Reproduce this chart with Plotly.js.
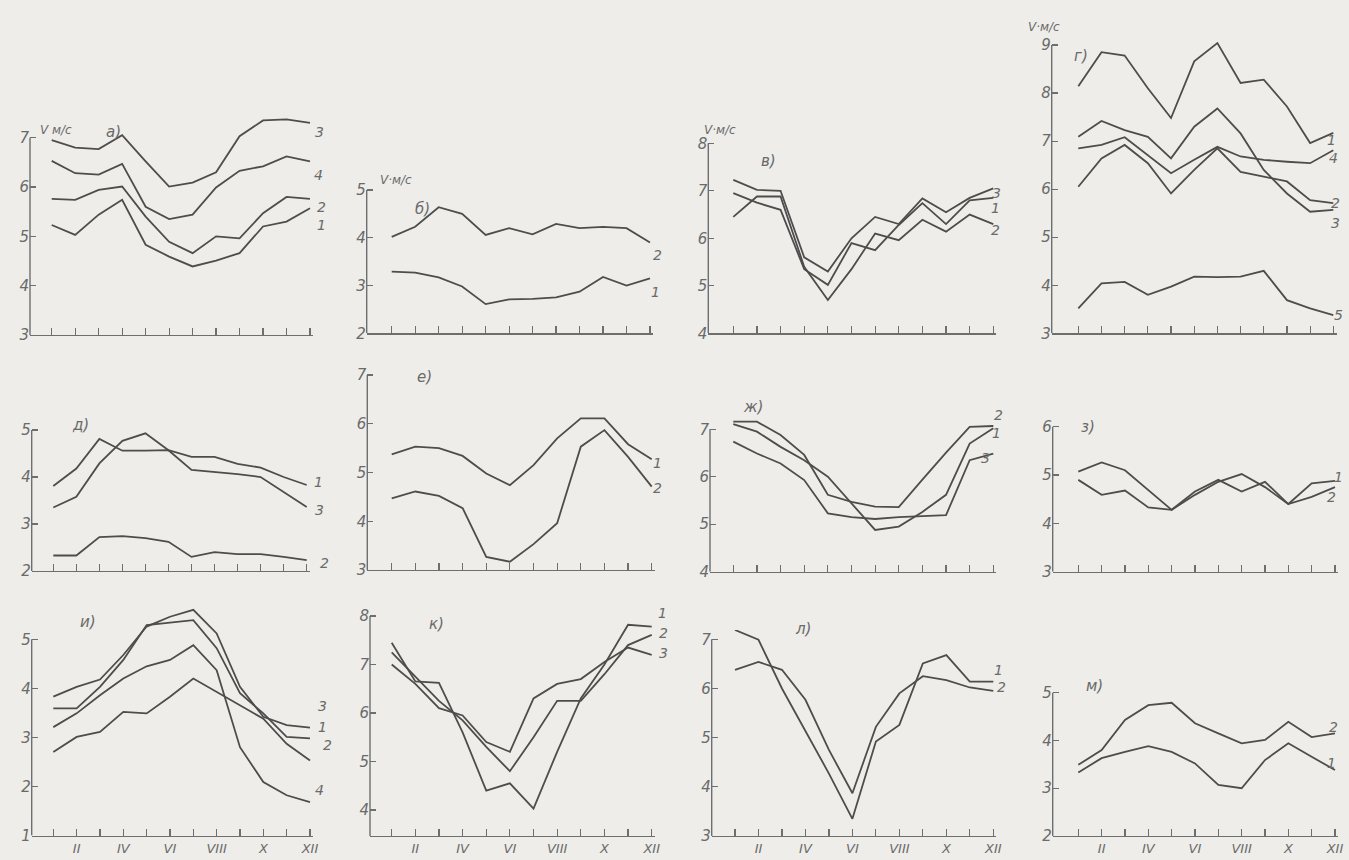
<!DOCTYPE html>
<html><head><meta charset="utf-8">
<script src="https://cdn.plot.ly/plotly-3.0.1.min.js"></script>
<style>html,body{margin:0;padding:0;background:#eeede9;} #chart{width:1349px;height:860px;}</style>
</head><body><div id="chart"></div>
<script>
// ---------- DATA ----------
const months = [1,2,3,4,5,6,7,8,9,10,11,12];
const monthTickText = ['', 'II', '', 'IV', '', 'VI', '', 'VIII', '', 'X', '', 'XII'];

// а)
const a_1 = [5.23, 5.03, 5.44, 5.74, 4.83, 4.59, 4.39, 4.51, 4.66, 5.20, 5.30, 5.57];
const a_2 = [5.76, 5.74, 5.94, 6.01, 5.40, 4.89, 4.66, 5.00, 4.96, 5.47, 5.80, 5.76];
const a_3 = [6.95, 6.80, 6.77, 7.05, 6.52, 6.01, 6.09, 6.30, 7.03, 7.35, 7.37, 7.30];
const a_4 = [6.53, 6.28, 6.25, 6.47, 5.60, 5.35, 5.44, 5.99, 6.33, 6.42, 6.62, 6.52];
// б)
const b_1 = [3.29, 3.27, 3.17, 2.98, 2.61, 2.71, 2.72, 2.75, 2.87, 3.18, 3.00, 3.15];
const b_2 = [4.02, 4.23, 4.64, 4.50, 4.06, 4.20, 4.07, 4.29, 4.20, 4.23, 4.20, 3.90];
// в)
const v_1 = [6.95, 6.75, 6.60, 5.35, 5.02, 5.90, 5.75, 6.28, 6.74, 6.30, 6.80, 6.85];
const v_2 = [6.45, 6.88, 6.88, 5.40, 4.70, 5.35, 6.10, 5.96, 6.39, 6.14, 6.50, 6.30];
const v_3 = [7.23, 7.02, 7.00, 5.60, 5.30, 6.00, 6.45, 6.30, 6.84, 6.55, 6.85, 7.05];
// г)
const g_1 = [8.14, 8.85, 8.78, 8.10, 7.48, 8.66, 9.04, 8.21, 8.28, 7.72, 6.96, 7.17];
const g_2 = [6.05, 6.64, 6.92, 6.54, 5.91, 6.40, 6.85, 6.36, 6.26, 6.16, 5.77, 5.71];
const g_3 = [7.09, 7.42, 7.23, 7.09, 6.64, 7.30, 7.68, 7.16, 6.40, 5.91, 5.53, 5.57];
const g_4 = [6.85, 6.92, 7.08, 6.71, 6.33, 6.61, 6.88, 6.68, 6.61, 6.57, 6.54, 6.81];
const g_5 = [3.52, 4.04, 4.07, 3.80, 3.97, 4.18, 4.17, 4.18, 4.30, 3.69, 3.52, 3.38];
// д)
const d_1 = [3.81, 4.18, 4.81, 4.56, 4.56, 4.57, 4.43, 4.43, 4.28, 4.20, 4.00, 3.83];
const d_2 = [2.33, 2.33, 2.72, 2.74, 2.70, 2.62, 2.30, 2.40, 2.36, 2.36, 2.30, 2.23];
const d_3 = [3.35, 3.58, 4.29, 4.77, 4.93, 4.57, 4.15, 4.11, 4.06, 4.00, 3.68, 3.36];
// е)
const e_1 = [5.37, 5.53, 5.50, 5.34, 4.98, 4.74, 5.15, 5.70, 6.11, 6.11, 5.58, 5.27];
const e_2 = [4.47, 4.61, 4.52, 4.27, 3.27, 3.17, 3.53, 3.96, 5.53, 5.87, 5.32, 4.71];
// ж)
const zh_1 = [7.11, 6.95, 6.63, 6.35, 6.00, 5.44, 4.88, 4.95, 5.26, 5.62, 6.70, 7.02];
const zh_2 = [7.16, 7.16, 6.88, 6.46, 5.62, 5.47, 5.37, 5.36, 5.94, 6.51, 7.05, 7.07];
const zh_3 = [6.74, 6.49, 6.28, 5.93, 5.23, 5.15, 5.11, 5.15, 5.17, 5.19, 6.35, 6.49];
// з)
const z_1 = [5.07, 5.26, 5.10, 4.69, 4.28, 4.59, 4.86, 5.02, 4.75, 4.40, 4.83, 4.88];
const z_2 = [4.90, 4.59, 4.68, 4.33, 4.28, 4.66, 4.90, 4.66, 4.86, 4.40, 4.55, 4.75];
// и)
const i_1 = [3.59, 3.59, 4.03, 4.58, 5.29, 5.34, 5.39, 4.82, 3.90, 3.49, 3.01, 2.98];
const i_2 = [2.70, 3.01, 3.11, 3.52, 3.49, 3.83, 4.20, 3.93, 3.66, 3.38, 2.87, 2.53];
const i_3 = [3.83, 4.03, 4.18, 4.68, 5.26, 5.46, 5.60, 5.12, 4.03, 3.42, 3.25, 3.20];
const i_4 = [3.21, 3.49, 3.86, 4.20, 4.45, 4.58, 4.88, 4.37, 2.80, 2.09, 1.82, 1.68];
// к)
const k_1 = [7.45, 6.65, 6.62, 5.60, 4.40, 4.55, 4.03, 5.20, 6.30, 7.00, 7.82, 7.78];
const k_2 = [7.25, 6.75, 6.25, 5.85, 5.30, 4.80, 5.50, 6.25, 6.25, 6.80, 7.40, 7.61];
const k_3 = [7.00, 6.60, 6.10, 5.95, 5.40, 5.20, 6.30, 6.60, 6.70, 7.05, 7.35, 7.20];
// л)
const l_1 = [7.19, 6.99, 6.00, 5.12, 4.27, 3.35, 4.92, 5.26, 6.51, 6.68, 6.14, 6.14];
const l_2 = [6.38, 6.54, 6.38, 5.77, 4.75, 3.87, 5.22, 5.90, 6.25, 6.17, 6.02, 5.95];
// м)
const m_1 = [3.33, 3.63, 3.76, 3.88, 3.76, 3.52, 3.07, 3.00, 3.59, 3.94, 3.66, 3.38];
const m_2 = [3.49, 3.80, 4.43, 4.74, 4.79, 4.36, 4.15, 3.94, 4.01, 4.39, 4.07, 4.15];

// ---------- LAYOUT CONFIG (pixels) ----------
const W = 1349, H = 860;
const BG = '#eeede9', LN = '#4d4d4d', AX = '#6e6e6e', TX = '#6a6a6a';
const FONT = 'DejaVu Sans';

const panels = [
  {name:'а)', nameAt:[104,121], unit:'V м/с', unitAt:[38,121], series:[a_1,a_2,a_3,a_4],
   lab:[['1',315,215],['2',315,197],['3',313,122],['4',312,165]],
   g:{xo:30,xe:313,p1:51.7,p12:310,yo:335,t0:[3,335],t1:[7,137.7],ytop:110}, yt:[3,4,5,6,7], xl:false},
  {name:'б)', nameAt:[413,198], unit:'V·м/с', unitAt:[378,171], series:[b_1,b_2],
   lab:[['1',655,282],['2',657,245]],
   g:{xo:366.7,xe:653,p1:391.7,p12:650,yo:333.3,t0:[2,333.3],t1:[5,190],ytop:185}, yt:[2,3,4,5], xl:false},
  {name:'в)', nameAt:[768,150], unit:'V·м/с', unitAt:[720,121], series:[v_1,v_2,v_3],
   lab:[['1',1002,198],['2',1002,220],['3',1003,183]],
   g:{xo:708.3,xe:996,p1:733.3,p12:993.3,yo:333.3,t0:[4,333.3],t1:[8,143.3],ytop:138}, yt:[4,5,6,7,8], xl:false},
  {name:'г)', nameAt:[1090,45], unit:'V·м/с', unitAt:[1062,18], series:[g_1,g_2,g_3,g_4,g_5],
   lab:[['1',1338,130],['2',1342,193],['3',1342,213],['4',1340,148],['5',1345,315]],
   g:{xo:1051.7,xe:1337,p1:1078.3,p12:1333.3,yo:333.3,t0:[3,333.3],t1:[9,45],ytop:38}, yt:[3,4,5,6,7,8,9], xl:false},
  {name:'д)', nameAt:[70,425], series:[d_1,d_2,d_3],
   lab:[['1',312,482],['2',318,563],['3',313,510]],
   g:{xo:31.7,xe:310,p1:53.3,p12:306.7,yo:571,t0:[2,571],t1:[5,430],ytop:424}, yt:[2,3,4,5], xl:false},
  {name:'е)', nameAt:[415,377], series:[e_1,e_2],
   lab:[['1',657,463],['2',657,488]],
   g:{xo:367.3,xe:655,p1:391.7,p12:651.7,yo:570,t0:[3,570],t1:[7,375],ytop:370}, yt:[3,4,5,6,7], xl:false},
  {name:'ж)', nameAt:[753,407], series:[zh_1,zh_2,zh_3],
   lab:[['1',1003,433],['2',1005,415],['3',992,458]],
   g:{xo:710,xe:996,p1:733.3,p12:993.3,yo:571.7,t0:[4,571.7],t1:[7,429.3],ytop:414}, yt:[4,5,6,7], xl:false},
  {name:'з)', nameAt:[1097,427], series:[z_1,z_2],
   lab:[['1',1345,477],['2',1338,497]],
   g:{xo:1052.7,xe:1338,p1:1078.3,p12:1335,yo:571.7,t0:[3,571.7],t1:[6,426.7],ytop:420}, yt:[3,4,5,6], xl:false},
  {name:'и)', nameAt:[78,633], series:[i_1,i_2,i_3,i_4],
   lab:[['1',316,737],['2',321,755],['3',316,716],['4',313,800]],
   g:{xo:31.7,xe:313,p1:53.3,p12:310,yo:835.5,t0:[1,835.5],t1:[5,639.3],ytop:600}, yt:[1,2,3,4,5], xl:true},
  {name:'к)', nameAt:[427,635], series:[k_1,k_2,k_3],
   lab:[['1',662,623],['2',663,643],['3',663,663]],
   g:{xo:370,xe:655,p1:391.7,p12:651.7,yo:836,t0:[4,810],t1:[8,616],ytop:612}, yt:[4,5,6,7,8], xl:true},
  {name:'л)', nameAt:[803,640], series:[l_1,l_2],
   lab:[['1',1005,680],['2',1008,697]],
   g:{xo:711.7,xe:996,p1:735,p12:993.3,yo:836,t0:[3,836],t1:[7,639.3],ytop:630}, yt:[3,4,5,6,7], xl:true},
  {name:'м)', nameAt:[1105,697], series:[m_1,m_2],
   lab:[['1',1338,773],['2',1340,737]],
   g:{xo:1052.7,xe:1338,p1:1078.3,p12:1335,yo:836,t0:[2,836],t1:[5,692.7],ytop:685}, yt:[2,3,4,5], xl:true}
];

// ---------- BUILD ----------
const traces = [];
const layout = {
  width: W, height: H, margin: {l:0, r:0, t:0, b:0},
  paper_bgcolor: BG, plot_bgcolor: 'rgba(0,0,0,0)', showlegend: false,
  annotations: [], shapes: [], hovermode: false
};

panels.forEach((p, i) => {
  const n = i + 1, s = n === 1 ? '' : String(n);
  const g = p.g;
  const dx = (g.p12 - g.p1) / 11;
  const sy = (g.t0[1] - g.t1[1]) / (g.t1[0] - g.t0[0]);
  const yBot = g.t0[0] - (g.yo - g.t0[1]) / sy;
  const yTop = g.t0[0] + (g.t0[1] - g.ytop) / sy;
  layout['xaxis' + s] = {
    domain: [g.xo / W, g.xe / W],
    range: [1 - (g.p1 - g.xo) / dx, 12 + (g.xe - g.p12) / dx],
    anchor: 'y' + s, showgrid: false, zeroline: false,
    showline: true, linecolor: AX, linewidth: 1.4,
    ticks: 'inside', ticklen: 7, tickwidth: 1.2, tickcolor: AX,
    tickvals: months, ticktext: monthTickText, showticklabels: p.xl,
    tickfont: {family: FONT, size: 13, color: TX, style: 'italic'}, fixedrange: true
  };
  layout['yaxis' + s] = {
    domain: [1 - g.yo / H, 1 - g.ytop / H],
    range: [yBot, yTop], anchor: 'x' + s,
    showgrid: false, zeroline: false, showline: false,
    ticks: 'inside', ticklen: 6, tickwidth: 1.2, tickcolor: AX,
    tickvals: p.yt, ticktext: p.yt.map(String),
    tickfont: {family: FONT, size: 15, color: TX, style: 'italic'}, fixedrange: true
  };
  layout.shapes.push({type:'line', xref:'x' + s + ' domain', yref:'y' + s,
    x0:0, x1:0, y0:yBot, y1:g.t1[0], line:{color:AX, width:1.4}});
  p.series.forEach(arr => {
    traces.push({x: months, y: arr, xaxis: 'x' + s, yaxis: 'y' + s, type: 'scatter',
      mode: 'lines', line: {color: LN, width: 1.8}, hoverinfo: 'skip'});
  });
  layout.annotations.push({text: p.name, xref:'paper', yref:'paper', x: p.nameAt[0]/W, y: 1 - p.nameAt[1]/H,
    showarrow:false, font:{family:FONT, size:15, color:TX, style:'italic'}});
  if (p.unitAt) layout.annotations.push({text: p.unit, xref:'paper', yref:'paper', x: p.unitAt[0]/W, y: 1 - p.unitAt[1]/H,
    showarrow:false, font:{family:FONT, size:12, color:TX, style:'italic'}});
  p.lab.forEach(([t, px, py]) => layout.annotations.push({text: t, xref:'paper', yref:'paper', x: px/W, y: 1 - py/H,
    showarrow:false, font:{family:FONT, size:14, color:TX, style:'italic'}}));
});

Plotly.newPlot('chart', traces, layout, {staticPlot: true, displayModeBar: false});
</script>
</body></html>
